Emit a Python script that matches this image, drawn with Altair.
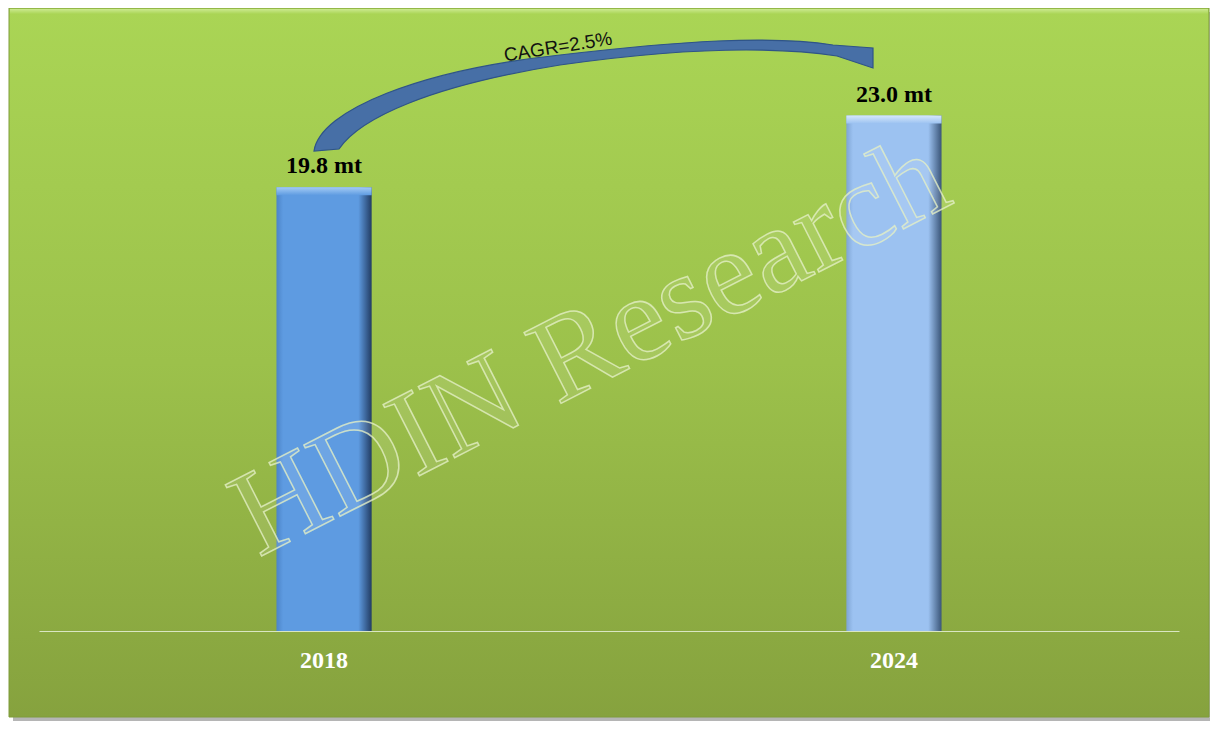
import altair as alt
import pandas as pd

# ---- data ----
years = ["2018", "2024"]
values = [19.8, 23.0]
value_labels = ["19.8 mt", "23.0 mt"]
cagr_text = "CAGR=2.5%"
watermark = "HDIN Research"

df = pd.DataFrame({"year": years, "value": values, "label": value_labels})
one = pd.DataFrame({"k": [0]})
wm_df = pd.DataFrame({"t": [watermark]})
cagr_df = pd.DataFrame({"t": [cagr_text]})

W, H = 1140, 623

x_enc = alt.X("year:N", sort=years,
              scale=alt.Scale(paddingInner=0.833, paddingOuter=0.4167),
              axis=alt.Axis(title=None, labelAngle=0, ticks=False, zindex=1,
                            domainColor="#D9E6C2", domainWidth=1.2,
                            labelColor="white", labelFont="Liberation Serif",
                            labelFontSize=24, labelFontWeight="bold",
                            labelPadding=17, grid=False))
y_scale = alt.Scale(domain=[0, 27.8], nice=False, zero=True)


def grad(stops, horizontal=False):
    return {"gradient": "linear",
            "stops": [{"offset": o, "color": c} for o, c in stops],
            "x1": 0, "x2": 1 if horizontal else 0, "y1": 0, "y2": 0 if horizontal else 1}


shadow = alt.Chart(one).mark_rect(fill="#b5b5b5").encode(
    x=alt.value(-26), x2=alt.value(1174), y=alt.value(4), y2=alt.value(713))

panel = alt.Chart(one).mark_rect(
    fill=grad([(0, "#AAD555"), (0.5, "#9CC14B"), (1, "#86A23E")]),
    stroke="#7F9C3A", strokeWidth=1).encode(
    x=alt.value(-30), x2=alt.value(1170), y=alt.value(0), y2=alt.value(709))

panel_top = alt.Chart(one).mark_rect(
    fill=grad([(0, "#CBE98F"), (1, "#AAD555")])).encode(
    x=alt.value(-29), x2=alt.value(1169), y=alt.value(1), y2=alt.value(6))

bar_styles = {
    "2018": dict(body=[(0, "#4C84C8"), (0.07, "#5E9BE1"), (0.86, "#5E9BE1"), (1, "#223C63")],
                 top=[(0, "#A3CBF5"), (1, "#5E9BE1")]),
    "2024": dict(body=[(0, "#7FA5D4"), (0.07, "#9CC2F1"), (0.86, "#9CC2F1"), (1, "#3A5578")],
                 top=[(0, "#D6E8FB"), (1, "#9CC2F1")]),
}

bar_layers = []
for yr in years:
    st = bar_styles[yr]
    sub = df[df["year"] == yr]
    body = alt.Chart(sub).mark_bar(
        fill=grad(st["body"], horizontal=True)).encode(
        x=x_enc, y=alt.Y("value:Q", scale=y_scale, axis=None))
    top = alt.Chart(sub).mark_bar(
        fill=grad(st["top"]), y2Offset=8).encode(
        x=alt.X("year:N", sort=years), y=alt.Y("value:Q", scale=y_scale, axis=None),
        y2=alt.Y2("value:Q"))
    bar_layers += [body, top]

labels = alt.Chart(df).mark_text(
    font="Liberation Serif", fontSize=24, fontWeight="bold", color="black",
    baseline="alphabetic", dy=-14).encode(
    x=alt.X("year:N", sort=years), y=alt.Y("value:Q", scale=y_scale, axis=None),
    text="label:N")

wm = alt.Chart(wm_df).mark_text(
    font="Liberation Serif", fontSize=122, angle=333,
    align="center", baseline="alphabetic",
    fill="white", fillOpacity=0.1, stroke="#E4EFC6", strokeWidth=1.5,
    strokeOpacity=0.8).encode(x=alt.value(568), y=alt.value(372), text="t:N")

arrow_path = ("M 314 151 C 320 110 420 70 560 55 C 680 41 770 35 833 45 "
              "L 873 48 L 873 68 L 837 56 C 770 46 680 48 560 65 "
              "C 430 86 360 118 339 149 Z")
arrow = alt.Chart(one).mark_point(
    shape=arrow_path, size=4, filled=True, fill="#476FA6", fillOpacity=1,
    stroke="#2F5488", strokeWidth=1.2, opacity=1).encode(
    x=alt.value(-39), y=alt.value(-8))

cagr = alt.Chart(cagr_df).mark_text(
    font="Liberation Sans", fontSize=19, angle=351,
    align="center", baseline="alphabetic", color="#111111").encode(
    x=alt.value(520), y=alt.value(45), text="t:N")

chart = alt.layer(shadow, panel, panel_top, *bar_layers, wm, labels, arrow, cagr).properties(
    width=W, height=H,
    autosize=alt.AutoSizeParams(type="none"),
    padding={"left": 31, "top": 0, "right": 31, "bottom": 92},
    background="white",
).configure_view(stroke=None)

chart.save("out.html", embed_options={"renderer": "svg", "actions": False})
